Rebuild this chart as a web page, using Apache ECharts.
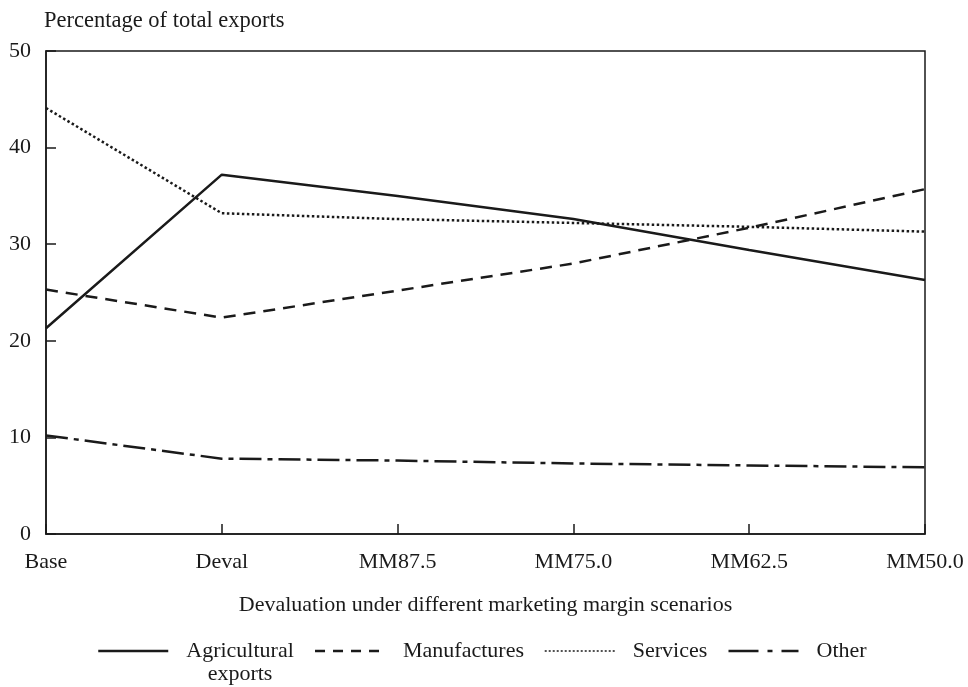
<!DOCTYPE html>
<html>
<head>
<meta charset="utf-8">
<script src="https://cdn.jsdelivr.net/npm/echarts@6/dist/echarts.min.js"></script>
<style>html,body{margin:0;padding:0;background:#fff}#c{width:968px;height:687px}</style>
</head>
<body>
<div id="c"></div>
<script>
var categories = ['Base', 'Deval', 'MM87.5', 'MM75.0', 'MM62.5', 'MM50.0'];
var agricultural = [21.3, 37.2, 35.0, 32.6, 29.4, 26.3];
var manufactures = [25.3, 22.4, 25.2, 28.0, 31.7, 35.7];
var services = [44.1, 33.2, 32.6, 32.2, 31.8, 31.3];
var other = [10.2, 7.8, 7.6, 7.3, 7.1, 6.9];
var yTicks = {min: 0, max: 50, interval: 10};

var FONT = '"Liberation Serif", "Times New Roman", serif';
var INK = '#1a1a1a';
var FS = 22;

function mk(name, data, type) {
  return {
    name: name, type: 'line', data: data, symbol: 'none', showSymbol: false,
    lineStyle: {color: INK, width: 2.5, type: type}, itemStyle: {color: INK},
    emphasis: {disabled: true}, animation: false
  };
}

var chart = echarts.init(document.getElementById('c'));
chart.setOption({
  animation: false,
  textStyle: {fontFamily: FONT, color: INK},
  grid: {left: 46, right: 43, top: 51, bottom: 153, show: true, borderColor: INK, borderWidth: 1.5},
  xAxis: {
    type: 'category', data: categories, boundaryGap: false,
    name: 'Devaluation under different marketing margin scenarios',
    nameLocation: 'middle', nameGap: 60,
    nameTextStyle: {fontFamily: FONT, fontSize: FS, color: INK},
    axisLine: {lineStyle: {color: INK, width: 1.5}},
    axisTick: {inside: true, length: 10, lineStyle: {color: INK, width: 1.5}},
    axisLabel: {fontFamily: FONT, fontSize: FS, color: INK, margin: 17},
    splitLine: {show: false}
  },
  yAxis: {
    type: 'value', min: yTicks.min, max: yTicks.max, interval: yTicks.interval,
    name: 'Percentage of total exports', nameLocation: 'end', nameGap: 30,
    nameTextStyle: {fontFamily: FONT, fontSize: 22.5, color: INK, align: 'left', verticalAlign: 'middle', padding: [0, 0, 0, -2]},
    axisLine: {show: true, lineStyle: {color: INK, width: 1.5}},
    axisTick: {show: true, inside: true, length: 10, lineStyle: {color: INK, width: 1.5}},
    axisLabel: {fontFamily: FONT, fontSize: FS, color: INK, margin: 15},
    splitLine: {show: false}
  },
  legend: {
    left: 97, top: 617, padding: 0, itemWidth: 70, itemHeight: 14, itemGap: 20,
    itemStyle: {color: 'rgba(0,0,0,0)', borderColor: 'rgba(0,0,0,0)', borderWidth: 0, opacity: 0},
    data: [
      {name: 'Agricultural', lineStyle: {type: 'solid', width: 2.5}},
      {name: 'Manufactures', lineStyle: {type: [10, 8], width: 2.5}},
      {name: 'Services', lineStyle: {type: [2, 2], width: 1.5}},
      {name: 'Other', lineStyle: {type: [30, 9, 5, 9], width: 2.5}}
    ],
    formatter: function (name) {
      if (name === 'Agricultural') return '{s| }\n{c|Agricultural}\n{c|exports}';
      return '{n|' + name + '}';
    },
    textStyle: {
      fontFamily: FONT, fontSize: FS, color: INK,
      rich: {
        s: {fontFamily: FONT, fontSize: FS, lineHeight: 23, padding: [0, 0, 0, 13]},
        c: {fontFamily: FONT, fontSize: FS, lineHeight: 23, align: 'center', padding: [0, 0, 0, 13]},
        n: {fontFamily: FONT, fontSize: FS, lineHeight: 23, padding: [0, 0, 0, 13]}
      }
    }
  },
  series: [
    mk('Agricultural', agricultural, 'solid'),
    mk('Manufactures', manufactures, [12, 8]),
    mk('Services', services, [2.5, 2.5]),
    mk('Other', other, [22, 6, 5, 6])
  ]
});
</script>
</body>
</html>
